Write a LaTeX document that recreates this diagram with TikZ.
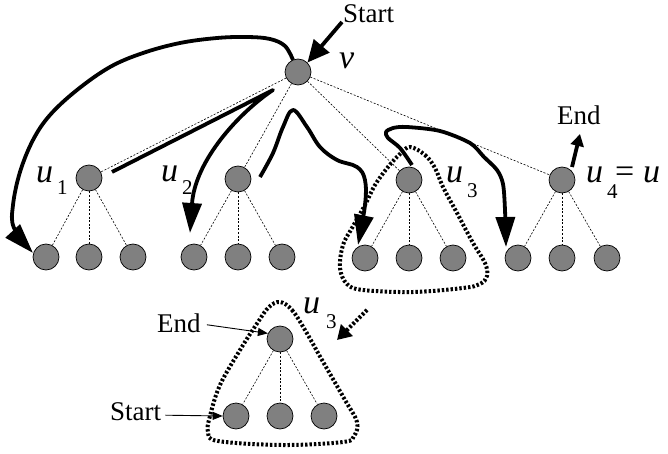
\documentclass[tikz,border=0pt]{standalone}
\usepackage{fontspec}
\setmainfont{Liberation Serif}
\usetikzlibrary{arrows.meta}
\definecolor{treegray}{RGB}{128,128,128}
\newcommand\txtfont{\fontsize{27}{27}\selectfont}
\newcommand\varfont{\fontsize{34}{34}\selectfont\itshape}
\newcommand\subfont{\fontsize{21}{21}\selectfont}
\begin{document}
\begin{tikzpicture}[x=1pt,y=-1pt,
  vert/.style={circle, draw=black, line width=0.7pt, fill=treegray, minimum size=26pt, inner sep=0pt},
  link/.style={line width=0.6pt, dash pattern=on 2pt off 1.6pt},
  trail/.style={line width=3.8pt, line join=round},
  bighead/.style={-{Triangle[length=30pt,width=19pt]}},
  loopline/.style={line width=4pt, dash pattern=on 2.4pt off 2pt},
  thinarrow/.style={line width=0.9pt, -{Triangle[length=10pt,width=8pt]}},
  word/.style={anchor=base west, inner sep=0pt, font=\txtfont},
  var/.style={anchor=base west, inner sep=0pt, font=\varfont},
  idx/.style={anchor=base west, inner sep=0pt, font=\subfont}]
\useasboundingbox (0,0) rectangle (668,454);

% upper tree
\node[vert] (v) at (298,72) {};
\node[vert] (u1) at (89,178) {};
\node[vert] (u2) at (238,179) {};
\node[vert] (u3) at (409,180) {};
\node[vert] (u4) at (562,180) {};
\node[vert] (l11) at (46,257) {};
\node[vert] (l12) at (89,257) {};
\node[vert] (l13) at (133,257) {};
\node[vert] (l21) at (194,257) {};
\node[vert] (l22) at (238,257) {};
\node[vert] (l23) at (282,257) {};
\node[vert] (l31) at (365,258) {};
\node[vert] (l32) at (409,258) {};
\node[vert] (l33) at (453,258) {};
\node[vert] (l41) at (518,258) {};
\node[vert] (l42) at (562,258) {};
\node[vert] (l43) at (607,258) {};

% lower (extracted) subtree
\node[vert] (r) at (280,339) {};
\node[vert] (s1) at (236,416) {};
\node[vert] (s2) at (280,416) {};
\node[vert] (s3) at (324,416) {};

% tree edges
\foreach \c in {u1,u2,u3,u4} \draw[link] (v) -- (\c);
\foreach \p in {1,2,3,4}
  \foreach \k in {1,2,3} \draw[link] (u\p) -- (l\p\k);
\foreach \k in {1,2,3} \draw[link] (r) -- (s\k);

% labels
\node[word] (starttop) at (343,23) {Start};
\node[var] (vlbl) at (339,69) {v};
\node[word] (endtop) at (557,125) {End};
\node[var] (u1l) at (36,183) {u};
\node[idx] (u1s) at (57,194) {1};
\node[var] (u2l) at (161,182) {u};
\node[idx] (u2s) at (182,195) {2};
\node[var] (u3l) at (446,183) {u};
\node[idx] (u3s) at (467,197) {3};
\node[var] (u4l) at (586,183) {u};
\node[idx] (u4s) at (607,198) {4};
\node[anchor=base west, inner sep=0pt, font=\fontsize{34}{34}\selectfont] (eq) at (615,183) {=};
\node[var] (ul) at (643,183) {u};
\node[var] (u3bl) at (303,313) {u};
\node[idx] (u3bs) at (326,328) {3};
\node[word] (endbot) at (157,332) {End};
\node[word] (startbot) at (110,420) {Start};

% dotted outlines of the u3 subtree
\draw[loopline] plot[smooth cycle, tension=0.6] coordinates {
  (410,147) (425,155) (435,168) (443,187) (457,213) (473,243) (485,263)
  (487,276) (480,284) (463,288) (413,292) (363,290) (347,284) (340,268)
  (343,245) (352,228) (365,205) (375,185) (388,167) (400,154)};
\draw[loopline] plot[smooth cycle, tension=0.6] coordinates {
  (280,302) (292,310) (305,330) (322,360) (345,400) (357,422) (354,436)
  (343,442) (283,445) (218,441) (208,432) (210,416) (220,385) (240,350)
  (258,322) (269,307)};

% traversal
\coordinate (p1a) at (342,22);
\draw[trail, -{Triangle[length=22pt,width=20pt]}] (p1a) -- (v.north east);

\coordinate (p2a) at (293,60);
\coordinate (p2b) at (33,253);
\draw[trail, bighead] plot[smooth, tension=0.6] coordinates {
  (p2a) (285,46) (270,39) (247,37) (217,38) (180,43) (143,53) (110,67)
  (77,90) (50,115) (33,140) (20,172) (13,205) (14,228) (p2b)};

\coordinate (p3a) at (112,172);
\coordinate (p3b) at (273,90);
\coordinate (p3c) at (190,233);
\draw[trail, bighead] (p3a) -- (p3b) .. controls (240,112) and (195,160) .. (p3c);

\coordinate (p4a) at (260,177);
\coordinate (p4b) at (358,245);
\draw[trail, bighead] plot[smooth, tension=0.6] coordinates {
  (p4a) (273,153) (283,127) (293,110) (307,127) (320,147) (337,160)
  (357,167) (365,180) (365,205) (p4b)};

\coordinate (p5a) at (412,165);
\coordinate (p5b) at (506,247);
\draw[trail, bighead] plot[smooth, tension=0.5] coordinates {
  (p5a) (400,148) (388,138) (386,132) (393,128) (407,127) (440,131)
  (470,143) (484,157) (497,170) (503,184) (505,210) (p5b)};

\coordinate (p6a) at (572,167);
\coordinate (p6b) at (580,134);
\draw[trail, -{Triangle[length=12pt,width=13pt]}] (p6a) -- (p6b);

% pointers into the extracted subtree
\coordinate (p7a) at (367,310);
\coordinate (p7b) at (337,340);
\draw[loopline, -{Triangle[length=14pt,width=16pt]}] (p7a) -- (p7b);
\draw[thinarrow] (endbot.east) ++(6pt,-2pt) coordinate (e1) (e1) -- (r.155);
\draw[thinarrow] (startbot.east) ++(4pt,-4pt) coordinate (e2) (e2) -- (s1.west);
\end{tikzpicture}
\end{document}
